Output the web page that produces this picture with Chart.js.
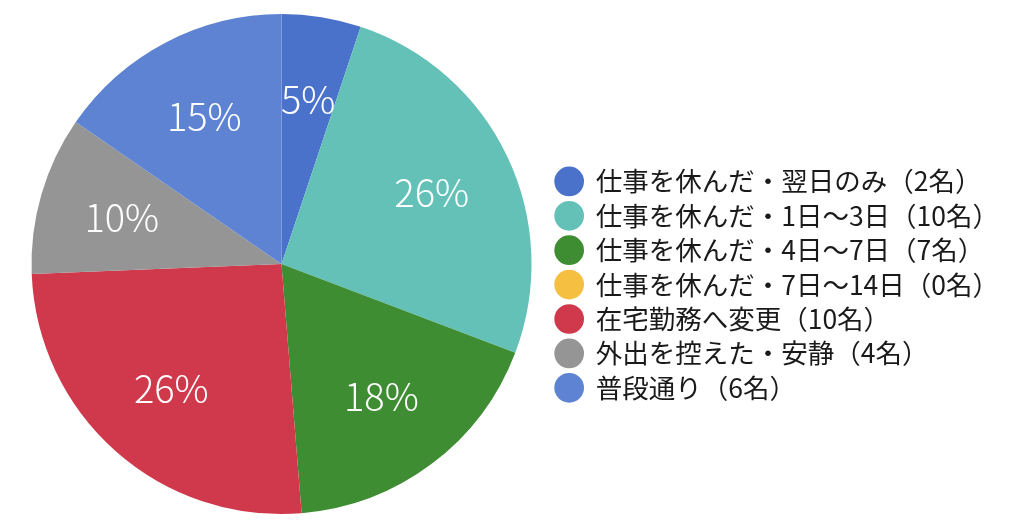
<!DOCTYPE html>
<html lang="ja">
<head>
<meta charset="utf-8">
<script src="https://cdn.jsdelivr.net/npm/chart.js@4.4.1/dist/chart.umd.min.js"></script>
<style>
  html, body { margin: 0; padding: 0; background: #fff; }
  #wrap { width: 1024px; height: 527px; }
</style>
</head>
<body>
<div id="wrap"><canvas id="pieChart"></canvas></div>
<script>
// Categories and counts (people)
const categories = [
    '仕事を休んだ・翌日のみ（2名）',
    '仕事を休んだ・1日〜3日（10名）',
    '仕事を休んだ・4日〜7日（7名）',
    '仕事を休んだ・7日〜14日（0名）',
    '在宅勤務へ変更（10名）',
    '外出を控えた・安静（4名）',
    '普段通り（6名）'
];
const counts = [2, 10, 7, 0, 10, 4, 6];
const sliceColors = ['#4a72ca', '#63c1b8', '#3f8d33', '#f5bf42', '#d0384c', '#959595', '#5e83d2'];

const FONT = '"Noto Sans CJK JP", "Noto Sans", sans-serif';

/**
 * Percentage labels inside each slice
 */
const sliceLabels = {
    id: 'sliceLabels',
    afterDatasetsDraw(chart) {
        const ctx = chart.ctx;
        const meta = chart.getDatasetMeta(0);
        const total = counts.reduce((a, b) => a + b, 0);
        ctx.save();
        ctx.fillStyle = '#ffffff';
        ctx.font = '300 38px ' + FONT;
        ctx.textAlign = 'center';
        ctx.textBaseline = 'middle';
        meta.data.forEach((arc, i) => {
            if (!counts[i]) return;
            const p = arc.getProps(['x', 'y', 'startAngle', 'endAngle', 'outerRadius'], true);
            const mid = (p.startAngle + p.endAngle) / 2;
            const r = p.outerRadius * 0.665;
            const pct = Math.round(counts[i] / total * 100) + '%';
            ctx.fillText(pct, p.x + Math.cos(mid) * r, p.y + Math.sin(mid) * r);
        });
        ctx.restore();
    }
};

const ctx = document.getElementById('pieChart').getContext('2d');
new Chart(ctx, {
    type: 'pie',
    data: {
        labels: categories,
        datasets: [{
            data: counts,
            backgroundColor: sliceColors,
            borderWidth: 0
        }]
    },
    options: {
        responsive: true,
        maintainAspectRatio: false,
        animation: false,
        layout: { padding: { left: 15, top: 14, bottom: 13, right: 15 } },
        plugins: {
            tooltip: { enabled: false },
            legend: {
                position: 'right',
                align: 'center',
                title: { display: true, text: '', font: { size: 1 }, padding: { top: 40, bottom: 0 } },
                labels: {
                    usePointStyle: true,
                    pointStyle: 'circle',
                    boxHeight: 21,
                    boxWidth: 26.5,
                    padding: 7.9,
                    color: '#1a1a1a',
                    font: { family: FONT, size: 26.5 }
                }
            }
        }
    },
    plugins: [sliceLabels]
});
</script>
</body>
</html>
